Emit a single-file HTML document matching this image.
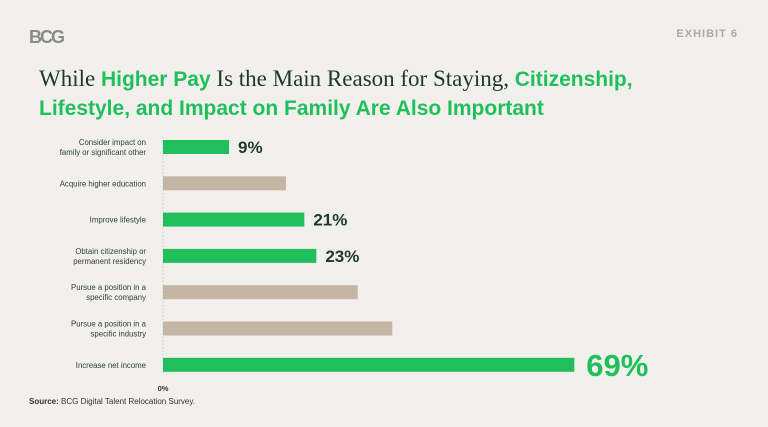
<!DOCTYPE html>
<html><head><meta charset="utf-8"><style>
body{margin:0;background:#f2f0ed;}
#root{position:relative;width:768px;height:427px;background:#f2f0ed;font-family:"Liberation Sans",sans-serif;overflow:hidden}
.logo{position:absolute;left:29px;top:27px;font-size:18px;font-weight:bold;color:#8a8a8a;letter-spacing:-2px}
.exh{position:absolute;right:30px;top:28px;font-size:11px;font-weight:bold;color:#a9a9a9;letter-spacing:1px}
.title{position:absolute;left:39px;top:65px;font-size:23px;line-height:28px;color:#1c3a26;font-family:"Liberation Serif",serif}
.g{color:#21bf5b;font-family:"Liberation Sans",sans-serif;font-weight:bold;font-size:21px}
.src{position:absolute;left:29px;top:397px;font-size:8px;color:#333}
</style></head><body>
<div id="root">
<div class="logo">BCG</div>
<div class="exh">EXHIBIT 6</div>
<div class="title">While <span class="g">Higher Pay</span> Is the Main Reason for Staying, <span class="g">Citizenship,</span><br><span class="g">Lifestyle, and Impact on Family Are Also Important</span></div>
<svg id="svg" width="768" height="427" style="position:absolute;left:0;top:0"></svg>
<div class="src"><b>Source:</b> BCG Digital Talent Relocation Survey.</div>
</div>
<script>
const categories=[["Consider impact on","family or significant other"],["Acquire higher education"],["Improve lifestyle"],["Obtain citizenship or","permanent residency"],["Pursue a position in a","specific company"],["Pursue a position in a","specific industry"],["Increase net income"]];
const values=[9,18,21,23,30,36,69];
const highlighted=[true,false,true,true,false,false,true];
const valueLabels=["9%","","21%","23%","","","69%"];
const NS="http://www.w3.org/2000/svg";
const svg=document.getElementById('svg');
const x0=163;
function xs(v){return 9.18*Math.pow(Math.max(v,0),0.898);}
function ys(i){return 147+i*36.3;}
function mk(t,a,txt){const e=document.createElementNS(NS,t);for(const k in a)e.setAttribute(k,a[k]);if(txt!==undefined)e.textContent=txt;svg.appendChild(e);return e;}
const ax=mk('line',{x1:x0,x2:x0,y1:137,y2:375,stroke:'#c8c8c8','stroke-dasharray':'1.5,2'});


const zl=mk('text',{x:x0,y:391,'font-size':7.5,'font-weight':'bold','text-anchor':'middle',fill:'#333','font-family':'Liberation Sans'},'0%');


values.forEach((v,i)=>{
 const y=ys(i);
 const r=mk('rect',{x:x0,y:y-7,width:xs(v),height:14,fill:highlighted[i]?'#21bf5b':'#c4b5a5'});
 
 
 const lines=categories[i];
 lines.forEach((l,j)=>{
  const t=mk('text',{x:146,y:y+3-(lines.length-1)*5+j*10,'font-size':7.8,'text-anchor':'end',fill:'#2f3f35','font-family':'Liberation Sans'},l);
  
  
 });
 if(valueLabels[i]){
  const big=v>50;
  const t=mk('text',{x:x0+xs(v)+(big?12:9),y:y+(big?11:6),'font-size':big?31:17,'font-weight':'bold',fill:big?'#21bf5b':'#1c3a26','font-family':'Liberation Sans'},valueLabels[i]);
  
  
 }
});
</script>
</body></html>
